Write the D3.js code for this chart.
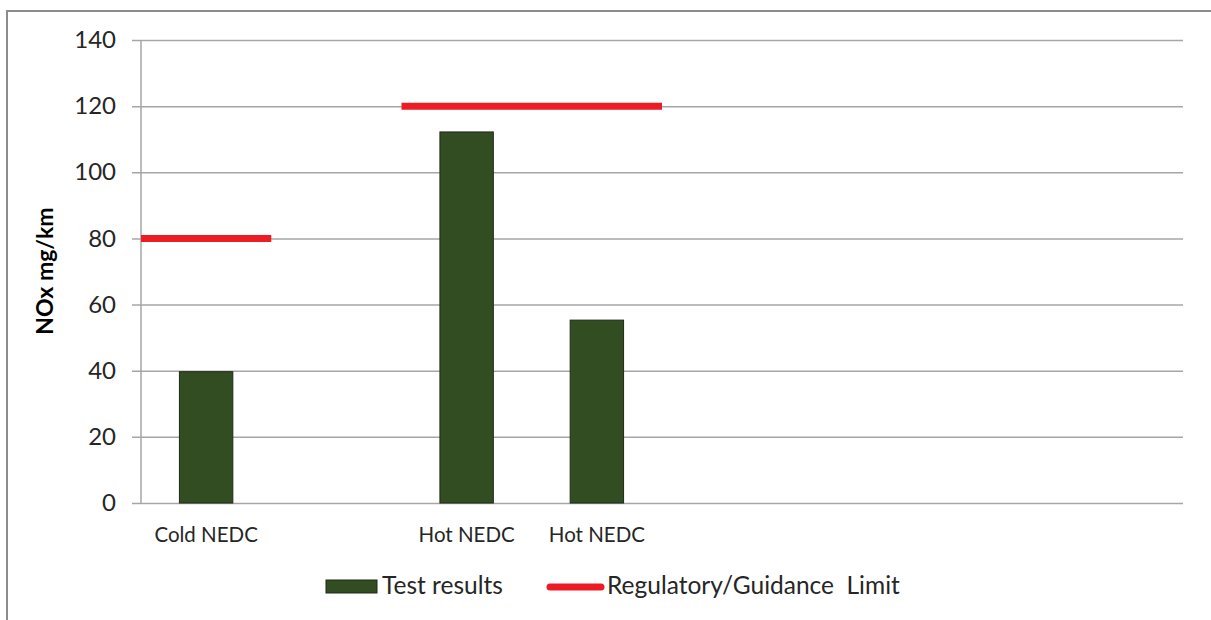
<!DOCTYPE html>
<html>
<head>
<meta charset="utf-8">
<script src="https://cdn.jsdelivr.net/npm/d3@7"></script>
<style>
  body { margin: 0; background: #fff; }
  text { font-family: Lato, "Open Sans", sans-serif; fill: #262626; }
</style>
</head>
<body>
<script>
// chart data
const categories = ["Cold NEDC", "", "Hot NEDC", "Hot NEDC", "", "", "", ""];
const testResults = [39.7, null, 112.2, 55.3, null, null, null, null];
const limits = [80, null, 120, 120, null, null, null, null];
const yTicks = [0, 20, 40, 60, 80, 100, 120, 140];

const width = 1211;
const height = 620;
const plot = { left: 141, right: 1183, top: 40, bottom: 503 };

const svg = d3.select("body").append("svg")
    .attr("width", width)
    .attr("height", height);

// outer chart border (runs off the right and bottom edges)
svg.append("rect")
    .attr("x", 7)
    .attr("y", 11)
    .attr("width", 1220)
    .attr("height", 640)
    .attr("fill", "none")
    .attr("stroke", "#8c8c8c")
    .attr("stroke-width", 2);

const x = d3.scaleBand()
    .domain(d3.range(categories.length))
    .range([plot.left, plot.right])
    .padding(0);

const y = d3.scaleLinear()
    .domain([0, 140])
    .range([plot.bottom, plot.top]);

// gridlines + y axis
const yAxis = d3.axisLeft(y)
    .tickValues(yTicks)
    .tickSize(plot.right - plot.left + 9)
    .tickPadding(16);

const gy = svg.append("g")
    .attr("transform", "translate(" + plot.right + ",0)")
    .call(yAxis);
gy.select(".domain").remove();
gy.selectAll(".tick line")
    .attr("stroke", "#a6a6a6")
    .attr("stroke-width", 1.5);
gy.selectAll(".tick text")
    .attr("x", -(plot.right - plot.left) - 25)
    .style("font-size", "24px");

// left axis line
svg.append("line")
    .attr("x1", plot.left).attr("x2", plot.left)
    .attr("y1", plot.top).attr("y2", plot.bottom)
    .attr("stroke", "#a6a6a6")
    .attr("stroke-width", 1.5);

// category labels
svg.selectAll(".cat")
    .data(categories)
    .enter()
    .append("text")
    .attr("class", "cat")
    .attr("x", (d, i) => x(i) + x.bandwidth() / 2)
    .attr("y", 542)
    .attr("text-anchor", "middle")
    .style("font-size", "20.5px")
    .text(d => d);

// bars
const barW = x.bandwidth() * 0.41;
svg.selectAll(".bar")
    .data(testResults.map((v, i) => ({ v: v, i: i })).filter(d => d.v !== null))
    .enter()
    .append("rect")
    .attr("class", "bar")
    .attr("x", d => x(d.i) + (x.bandwidth() - barW) / 2)
    .attr("y", d => y(d.v))
    .attr("width", barW)
    .attr("height", d => y(0) - y(d.v))
    .attr("fill", "#334d22")
    .attr("stroke", "#1e2a18")
    .attr("stroke-width", 1);

// limit lines: join neighbouring categories with the same limit into one run
let runs = [];
limits.forEach((v, i) => {
    if (v === null) return;
    const last = runs[runs.length - 1];
    if (last && last.v === v && last.end === i - 1) {
        last.end = i;
    } else {
        runs.push({ v: v, start: i, end: i });
    }
});

svg.selectAll(".limit")
    .data(runs)
    .enter()
    .append("line")
    .attr("class", "limit")
    .attr("x1", d => x(d.start))
    .attr("x2", d => x(d.end) + x.bandwidth())
    .attr("y1", d => y(d.v))
    .attr("y2", d => y(d.v))
    .attr("stroke", "#ed1c24")
    .attr("stroke-width", 7);

// y axis title
svg.append("text")
    .attr("transform", "translate(53,271) rotate(-90)")
    .attr("text-anchor", "middle")
    .style("font-size", "23px")
    .style("font-weight", "bold")
    .style("fill", "#000")
    .text("NOx mg/km");

// legend
const legend = svg.append("g");
legend.append("rect")
    .attr("x", 326).attr("y", 580)
    .attr("width", 51).attr("height", 13)
    .attr("fill", "#334d22")
    .attr("stroke", "#1e2a18");
legend.append("text")
    .attr("x", 382).attr("y", 594)
    .style("font-size", "24.5px")
    .text("Test results");
legend.append("line")
    .attr("x1", 550).attr("x2", 601)
    .attr("y1", 587).attr("y2", 587)
    .attr("stroke", "#ed1c24")
    .attr("stroke-width", 7)
    .attr("stroke-linecap", "round");
legend.append("text")
    .attr("x", 607).attr("y", 594)
    .style("font-size", "24.5px")
    .style("white-space", "pre")
    .attr("xml:space", "preserve")
    .text("Regulatory/Guidance  Limit");
</script>
</body>
</html>
